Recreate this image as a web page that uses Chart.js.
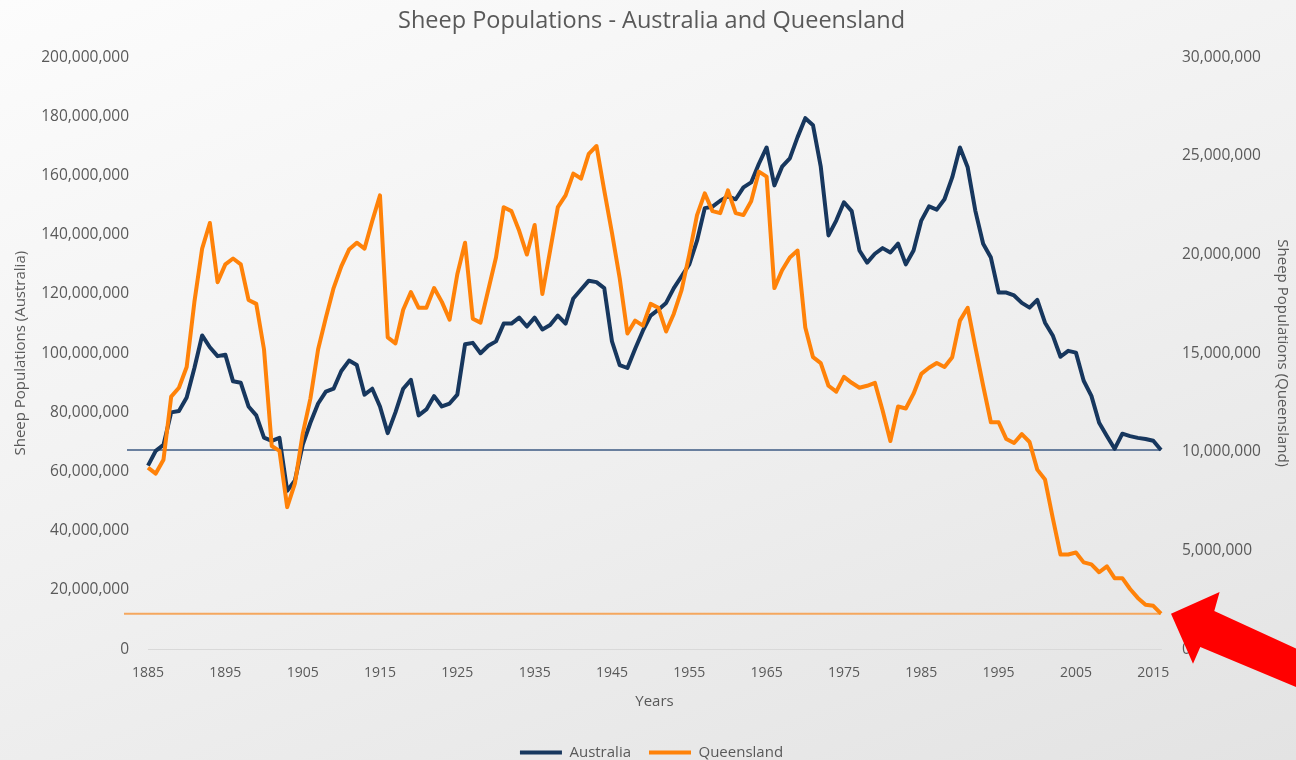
<!DOCTYPE html>
<html>
<head>
<meta charset="utf-8">
<script src="https://cdn.jsdelivr.net/npm/chart.js@4.4.1/dist/chart.umd.min.js"></script>
<style>
  html, body { margin: 0; padding: 0; width: 1296px; height: 760px; overflow: hidden; }
  body { background: linear-gradient(160deg, #fcfcfc 0%, #efefef 55%, #e3e3e3 100%); }
  #chartBox { position: absolute; left: 0; top: 0; width: 1296px; height: 770px; }
</style>
</head>
<body>
<div id="chartBox"><canvas id="sheepChart" width="1296" height="770"></canvas></div>
<script>
// years on the category axis
const firstYear = 1885;
const lastYear = 2016;
const years = [];
for (let y = firstYear; y <= lastYear; y++) {
  years.push(y);
}
// only these years get a label
const xTickYears = [1885, 1895, 1905, 1915, 1925, 1935, 1945, 1955, 1965, 1975, 1985, 1995, 2005, 2015];

// sheep numbers, millions
const australiaMillions = [
  62, 67, 69, 80, 80.5, 85, 95, 106, 102, 99,
  99.5, 90.5, 90, 82, 79, 71.5, 70.4, 71.4, 53.5, 57,
  69, 76.5, 83, 87, 88, 94, 97.5, 96, 86, 88,
  82, 73, 80, 88, 91, 79, 81, 85.5, 82, 83,
  86, 103, 103.5, 100, 102.5, 104, 110, 110, 112, 109,
  112, 108, 109.5, 112.7, 110, 118.5, 121.5, 124.5, 124, 122,
  104, 96, 95, 101.5, 107.6, 112.7, 114.7, 117, 122, 126,
  130, 138, 149, 149.5, 151.5, 153, 152, 156, 157.7, 164,
  169.5, 156.7, 163, 165.8, 173, 179.4, 177, 163, 139.8, 144.8,
  151, 148, 134.7, 130.6, 133.6, 135.5, 134, 137, 130, 134.7,
  144.8, 149.6, 148.5, 152, 159.4, 169.5, 162.8, 148, 137, 132.3,
  120.5, 120.5, 119.5, 117, 115.4, 118, 110.3, 106, 98.8, 100.8,
  100.2, 90.7, 85.6, 76.5, 72, 67.7, 72.8, 72, 71.4, 71,
  70.4, 67.3
];
const queenslandMillions = [
  9.2, 8.9, 9.6, 12.8, 13.25, 14.3, 17.6, 20.3, 21.6, 18.6,
  19.5, 19.8, 19.5, 17.7, 17.5, 15.2, 10.3, 10.05, 7.2, 8.4,
  10.9, 12.7, 15.2, 16.8, 18.3, 19.4, 20.25, 20.6, 20.3, 21.7,
  23, 15.8, 15.5, 17.2, 18.1, 17.3, 17.3, 18.3, 17.6, 16.7,
  19.0, 20.6, 16.75, 16.55, 18.2, 19.85, 22.4, 22.2, 21.2, 20.0,
  21.5, 18.0, 20.2, 22.4, 23.0, 24.1, 23.85, 25.1, 25.5, 23.25,
  21.1, 18.8, 16.0, 16.65, 16.4, 17.5, 17.3, 16.1, 17.0, 18.2,
  20.0, 22.0, 23.1, 22.2, 22.1, 23.25, 22.1, 22.0, 22.7, 24.2,
  23.95, 18.3, 19.2, 19.85, 20.2, 16.3, 14.8, 14.5, 13.35, 13.05,
  13.8, 13.5, 13.25, 13.35, 13.5, 12.1, 10.55, 12.3, 12.2, 12.95,
  13.95, 14.26, 14.5, 14.3, 14.8, 16.65, 17.3, 15.3, 13.35, 11.5,
  11.5, 10.65, 10.45, 10.9, 10.5, 9.1, 8.6, 6.65, 4.8, 4.8,
  4.9, 4.4, 4.3, 3.9, 4.2, 3.6, 3.6, 3.05, 2.6, 2.25,
  2.2, 1.8
];

const australia = australiaMillions.map((v) => v * 1000000);
const queensland = queenslandMillions.map((v) => v * 1000000);

const textGrey = "#595959";
const fontName = "'Open Sans', 'DejaVu Sans', sans-serif";

// flat lines at the latest value of each series
const referenceLines = {
  id: "referenceLines",
  beforeDatasetsDraw(chart) {
    const ctx = chart.ctx;
    const left = chart.chartArea.left;
    const last = years.length - 1;
    const endX = chart.scales.x.getPixelForValue(last);
    const lines = [
      { y: chart.scales.yAus.getPixelForValue(australia[last]), color: "#3d5a83", width: 1.5, from: left - 21 },
      { y: chart.scales.yQld.getPixelForValue(queensland[last]), color: "#f5a75e", width: 2, from: left - 24 },
    ];
    ctx.save();
    lines.forEach((line) => {
      ctx.beginPath();
      ctx.strokeStyle = line.color;
      ctx.lineWidth = line.width;
      ctx.moveTo(line.from, line.y);
      ctx.lineTo(endX, line.y);
      ctx.stroke();
    });
    ctx.restore();
  },
};

// big red arrow pointing at the last Queensland point
const redArrow = {
  id: "redArrow",
  afterDraw(chart) {
    const ctx = chart.ctx;
    const last = years.length - 1;
    const tipX = chart.scales.x.getPixelForValue(last) + 10;
    const tipY = chart.scales.yQld.getPixelForValue(queensland[last]);
    const shape = [
      [0, 0], [48.6, -21.6], [43.3, -2.6], [243.3, 89.1],
      [243.3, 122.5], [29.3, 33.4], [22, 50],
    ];
    ctx.save();
    ctx.fillStyle = "#ff0000";
    ctx.beginPath();
    shape.forEach((p, i) => {
      if (i == 0) {
        ctx.moveTo(tipX + p[0], tipY + p[1]);
      } else {
        ctx.lineTo(tipX + p[0], tipY + p[1]);
      }
    });
    ctx.closePath();
    ctx.fill();
    ctx.restore();
  },
};

const ctx = document.getElementById("sheepChart").getContext("2d");
const chart = new Chart(ctx, {
  type: "line",
  data: {
    labels: years,
    datasets: [
      {
        label: "Australia",
        data: australia,
        yAxisID: "yAus",
        borderColor: "#17375e",
        backgroundColor: "#17375e",
        borderWidth: 4,
        pointRadius: 0,
        tension: 0,
        borderJoinStyle: "round",
        order: 2,
      },
      {
        label: "Queensland",
        data: queensland,
        yAxisID: "yQld",
        borderColor: "#ff8209",
        backgroundColor: "#ff8209",
        borderWidth: 4,
        pointRadius: 0,
        tension: 0,
        borderJoinStyle: "round",
        order: 1,
      },
    ],
  },
  options: {
    responsive: false,
    animation: false,
    layout: { padding: { left: 8, right: 1, top: 0, bottom: 0 } },
    plugins: {
      tooltip: { enabled: false },
      title: {
        display: true,
        text: "Sheep Populations - Australia and Queensland",
        color: textGrey,
        font: { family: fontName, size: 23.5, weight: "normal" },
        padding: { top: 7, bottom: 22 },
      },
      legend: {
        position: "bottom",
        labels: {
          usePointStyle: true,
          pointStyle: "line",
          pointStyleWidth: 42,
          color: textGrey,
          font: { family: fontName, size: 15 },
          padding: 18,
          sort: (a, b) => a.datasetIndex - b.datasetIndex,
        },
      },
    },
    scales: {
      x: {
        type: "category",
        grid: { display: true, color: "rgba(0,0,0,0)", drawTicks: false },
        border: { display: true, color: "#d9d9d9", width: 1 },
        afterBuildTicks: (scale) => {
          scale.ticks = scale.ticks.filter((t) => xTickYears.includes(years[t.value]));
        },
        ticks: {
          autoSkip: false,
          maxRotation: 0,
          padding: 15,
          color: textGrey,
          font: { family: fontName, size: 14 },
          callback: (value) => years[value],
        },
        title: {
          display: true,
          text: "Years",
          color: textGrey,
          font: { family: fontName, size: 15 },
          padding: { top: -3, bottom: 16 },
        },
      },
      yAus: {
        position: "left",
        min: 0,
        max: 200000000,
        grid: { display: false },
        border: { display: false },
        afterFit: (scale) => {
          scale.width = 140;
        },
        ticks: {
          stepSize: 20000000,
          padding: 11,
          color: textGrey,
          font: { family: fontName, size: 15.5 },
          callback: (value) => value.toLocaleString("en-US"),
        },
        title: {
          display: true,
          text: "Sheep Populations (Australia)",
          color: textGrey,
          font: { family: fontName, size: 15 },
        },
      },
      yQld: {
        position: "right",
        min: 0,
        max: 30000000,
        grid: { display: false },
        border: { display: false },
        afterFit: (scale) => {
          scale.width = 134;
        },
        ticks: {
          stepSize: 5000000,
          padding: 13,
          color: textGrey,
          font: { family: fontName, size: 15.5 },
          callback: (value) => value.toLocaleString("en-US"),
        },
        title: {
          display: true,
          text: "Sheep Populations (Queensland)",
          color: textGrey,
          font: { family: fontName, size: 15 },
        },
      },
    },
  },
  plugins: [referenceLines, redArrow],
});
</script>
</body>
</html>
